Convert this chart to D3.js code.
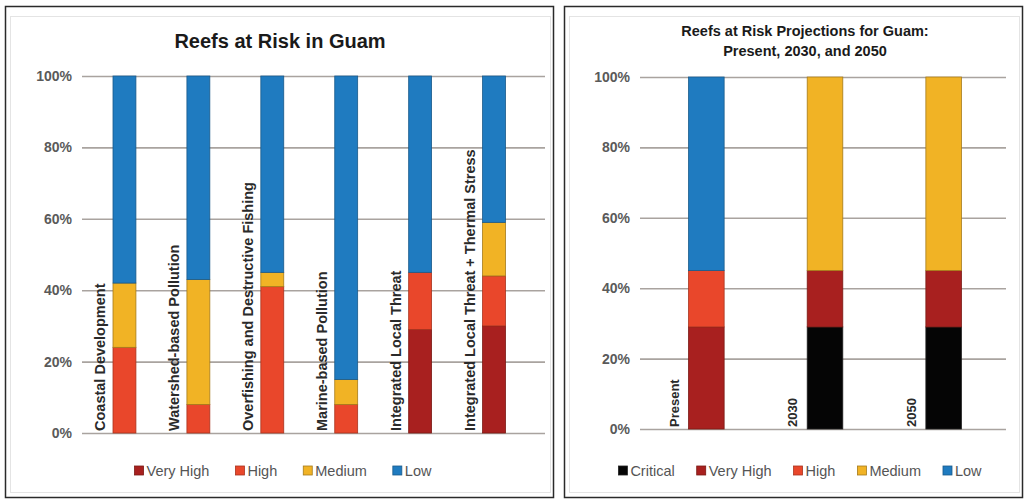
<!DOCTYPE html>
<html><head><meta charset="utf-8">
<script src="https://cdn.jsdelivr.net/npm/d3@7"></script>
<style>body{margin:0;background:#fff}svg{display:block;font-family:"Liberation Sans",Arial,sans-serif}</style>
</head><body><svg id="c" width="1024" height="502"></svg>
<script>
// ---- data ----
const threatCats = ["Coastal Development","Watershed-based Pollution","Overfishing and Destructive Fishing","Marine-based Pollution","Integrated Local Threat","Integrated Local Threat + Thermal Stress"];
const threatLevels = ["Very High","High","Medium","Low"];
const vhLeft  = [0, 0, 0, 0, 29, 30];
const hLeft   = [24, 8, 41, 8, 16, 14];
const mLeft   = [18, 35, 4, 7, 0, 15];
const lLeft   = [58, 57, 55, 85, 55, 41];

const projCats = ["Present","2030","2050"];
const projLevels = ["Critical","Very High","High","Medium","Low"];
const critR = [0, 29, 29];
const vhR   = [29, 16, 16];
const hR    = [16, 0, 0];
const mR    = [0, 55, 55];
const lR    = [55, 0, 0];

const yTicks = [0,20,40,60,80,100];

const colors = {"Critical":"#050505","Very High":"#a8201f","High":"#e9472b","Medium":"#f1b325","Low":"#1f7bc0"};
const strokes = {"Critical":"#222","Very High":"#7a1a14","High":"#a8341f","Medium":"#a57b1c","Low":"#1a5a8a"};

const svg = d3.select("#c");

// panel frames
svg.append("rect").attr("x",5.5).attr("y",6.5).attr("width",548).attr("height",491).attr("fill","#fff").attr("stroke","#2a2a2a").attr("stroke-width",1.5);
svg.append("rect").attr("x",564.5).attr("y",6.5).attr("width",458).attr("height",491).attr("fill","#fff").attr("stroke","#2a2a2a").attr("stroke-width",1.5);
svg.append("rect").attr("x",10.5).attr("y",16.5).attr("width",540).attr("height",476).attr("fill","none").attr("stroke","#e4e4e4").attr("stroke-width",1);
svg.append("rect").attr("x",569.5).attr("y",16.5).attr("width",450).attr("height",476).attr("fill","none").attr("stroke","#e4e4e4").attr("stroke-width",1);

function drawChart(o){
  const g = svg.append("g");
  const x = d3.scaleBand().domain(o.cats).range([o.x0,o.x1]).paddingInner(o.padIn).paddingOuter(o.padOut);
  const y = d3.scaleLinear().domain([0,100]).range([o.y0,o.y1]);
  // gridlines
  const yAxis = d3.axisLeft(y).tickValues(yTicks).tickFormat(d=>d+"%").tickSize(-(o.gx1-o.gx0)).tickPadding(o.tickPad);
  const ag = g.append("g").attr("transform",`translate(${o.gx1},0)`).call(yAxis);
  ag.select(".domain").remove();
  ag.selectAll(".tick line").attr("stroke","#a9a39f").attr("stroke-width",1.6).attr("x1",0).attr("x2",-(o.gx1-o.gx0));
  ag.selectAll(".tick text").attr("x",-(o.gx1-o.gx0)-o.tickPad).attr("fill","#5a5a5a").attr("font-size",14).attr("font-weight","bold");
  // bars
  const rows = o.cats.map((c,i)=>{const r={cat:c}; o.levels.forEach((l,j)=>r[l]=o.series[j][i]); return r;});
  const stack = d3.stack().keys(o.levels)(rows);
  g.selectAll("g.s").data(stack).join("g").attr("class","s")
    .attr("fill",d=>colors[d.key]).attr("stroke",d=>strokes[d.key]).attr("stroke-width",0.8)
    .selectAll("rect").data(d=>d.filter(v=>v[1]-v[0]>0)).join("rect")
    .attr("x",d=>x(d.data.cat)).attr("width",x.bandwidth())
    .attr("y",d=>y(d[1])).attr("height",d=>y(d[0])-y(d[1]));
  // category labels (vertical)
  g.selectAll("text.cat").data(o.cats).join("text").attr("class","cat")
    .attr("transform",d=>`translate(${x(d)-o.labOff},${o.y0-2}) rotate(-90)`)
    .attr("font-size",o.labSize).attr("font-weight","bold").attr("fill","#2a2a2a").text(d=>d);
  // title
  const t = g.append("text").attr("x",o.tx).attr("text-anchor","middle").attr("font-weight","bold").attr("font-size",o.tsize).attr("fill","#1a1a1a");
  o.title.forEach((s,i)=>t.append("tspan").attr("x",o.tx).attr("y",o.ty+i*o.tlh).text(s));
  // legend
  const lg = g.append("g");
  let cx = 0;
  o.levels.forEach(l=>{
    const it = lg.append("g").attr("transform",`translate(${cx},0)`);
    it.append("rect").attr("x",0).attr("y",-10).attr("width",9).attr("height",9).attr("fill",colors[l]).attr("stroke",strokes[l]).attr("stroke-width",0.8);
    const tx = it.append("text").attr("x",12).attr("y",0).attr("font-size",14.5).attr("fill","#555").text(l);
    cx += 12 + tx.node().getComputedTextLength() + o.lgap;
  });
  const w = cx - o.lgap;
  lg.attr("transform",`translate(${o.lcx - w/2},${o.ly})`);
}

drawChart({cats:threatCats, levels:threatLevels, series:[vhLeft,hLeft,mLeft,lLeft],
  x0:87.5, x1:531, padIn:0.69, padOut:0.345, y0:433, y1:76, gx0:82, gx1:545, tickPad:10,
  labOff:8, labSize:14.5, title:["Reefs at Risk in Guam"], tx:280, ty:48, tsize:20, tlh:0,
  lcx:283, ly:476, lgap:26});

drawChart({cats:projCats, levels:projLevels, series:[critR,vhR,hR,mR,lR],
  x0:647, x1:1003, padIn:0.70, padOut:0.35, y0:429, y1:77, gx0:640, gx1:1006, tickPad:10,
  labOff:10, labSize:13, title:["Reefs at Risk Projections for Guam:","Present, 2030, and 2050"], tx:805, ty:36, tsize:14.5, tlh:20,
  lcx:800, ly:476, lgap:22});
</script></body></html>
